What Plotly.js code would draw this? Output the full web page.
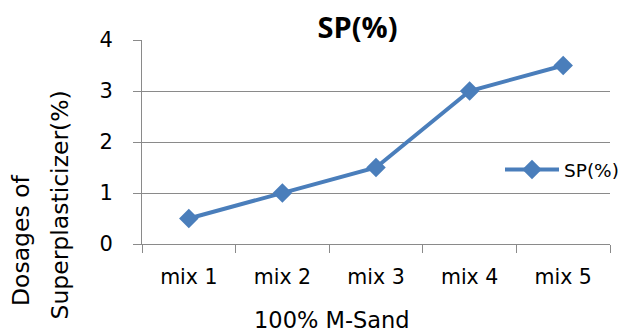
<!DOCTYPE html>
<html>
<head>
<meta charset="utf-8">
<script src="https://cdn.plot.ly/plotly-3.0.1.min.js"></script>
<style>html,body{margin:0;padding:0;background:#fff;}#chart{width:624px;height:332px;}</style>
</head>
<body>
<div id="chart"></div>
<script>
const categories = ["mix 1", "mix 2", "mix 3", "mix 4", "mix 5"];
const spValues = [0.5, 1, 1.5, 3, 3.5];
const seriesName = "SP(%)";
const chartTitle = "SP(%)";
const xTitle = "100% M-Sand";
const yTitleLines = ["Dosages of", "Superplasticizer(%)"];
const yTickVals = [0, 1, 2, 3, 4];

const L = 142, R = 14, T = 40, B = 88, W = 624, H = 332;
const pw = W - L - R, ph = H - T - B;
const px = x => (x - L) / pw;
const py = y => (H - B - y) / ph;

const font = "DejaVu Sans, sans-serif";
const grid = "#8a8a8a";

const trace = {
  x: categories, y: spValues, name: seriesName, type: "scatter", mode: "lines+markers",
  line: {color: "#4a7ebb", width: 4},
  marker: {symbol: "diamond", size: 15, color: "#4a7ebb"},
  showlegend: true
};

const layout = {
  width: W, height: H,
  margin: {l: L, r: R, t: T, b: B, pad: 0, autoexpand: false},
  paper_bgcolor: "#fff", plot_bgcolor: "#fff",
  font: {family: font, size: 21, color: "#000"},
  title: {text: "<b>" + chartTitle + "</b>", font: {family: "Open Sans, sans-serif", size: 29, color: "#000"},
          xref: "container", yref: "container", x: 357.5 / W, xanchor: "center", y: 1 - 28 / H, yanchor: "middle"},
  xaxis: {type: "category", range: [-0.5, 4.5], tickson: "boundaries", ticks: "outside", ticklen: 8,
          tickcolor: grid, tickwidth: 1, showline: true, linecolor: grid, linewidth: 1, showgrid: false,
          tickfont: {family: font, size: 20.5, color: "#000"}, ticklabelstandoff: 14, fixedrange: true},
  yaxis: {range: [0, 4], tickvals: yTickVals, ticks: "outside", ticklen: 8, tickcolor: grid, tickwidth: 1,
          showline: true, linecolor: grid, linewidth: 1, showgrid: true, gridcolor: grid, gridwidth: 1,
          zeroline: false, tickfont: {family: font, size: 21, color: "#000"}, ticklabelstandoff: 16, fixedrange: true},
  legend: {x: px(500), xanchor: "left", y: py(170), yanchor: "middle", bgcolor: "rgba(0,0,0,0)",
           font: {family: font, size: 18.5, color: "#000"}, itemwidth: 54},
  annotations: [
    {text: xTitle, xref: "paper", yref: "paper", x: px(331.5), y: py(320), xanchor: "center", yanchor: "middle",
     showarrow: false, font: {family: font, size: 22.5, color: "#000"}},
    {text: yTitleLines[0], xref: "paper", yref: "paper", x: px(21), y: py(240), xanchor: "center", yanchor: "middle",
     textangle: -90, showarrow: false, font: {family: font, size: 23.5, color: "#000"}},
    {text: yTitleLines[1], xref: "paper", yref: "paper", x: px(59.5), y: py(205), xanchor: "center", yanchor: "middle",
     textangle: -90, showarrow: false, font: {family: font, size: 23.5, color: "#000"}}
  ]
};

Plotly.newPlot("chart", [trace], layout, {displayModeBar: false, staticPlot: true});
</script>
</body>
</html>
